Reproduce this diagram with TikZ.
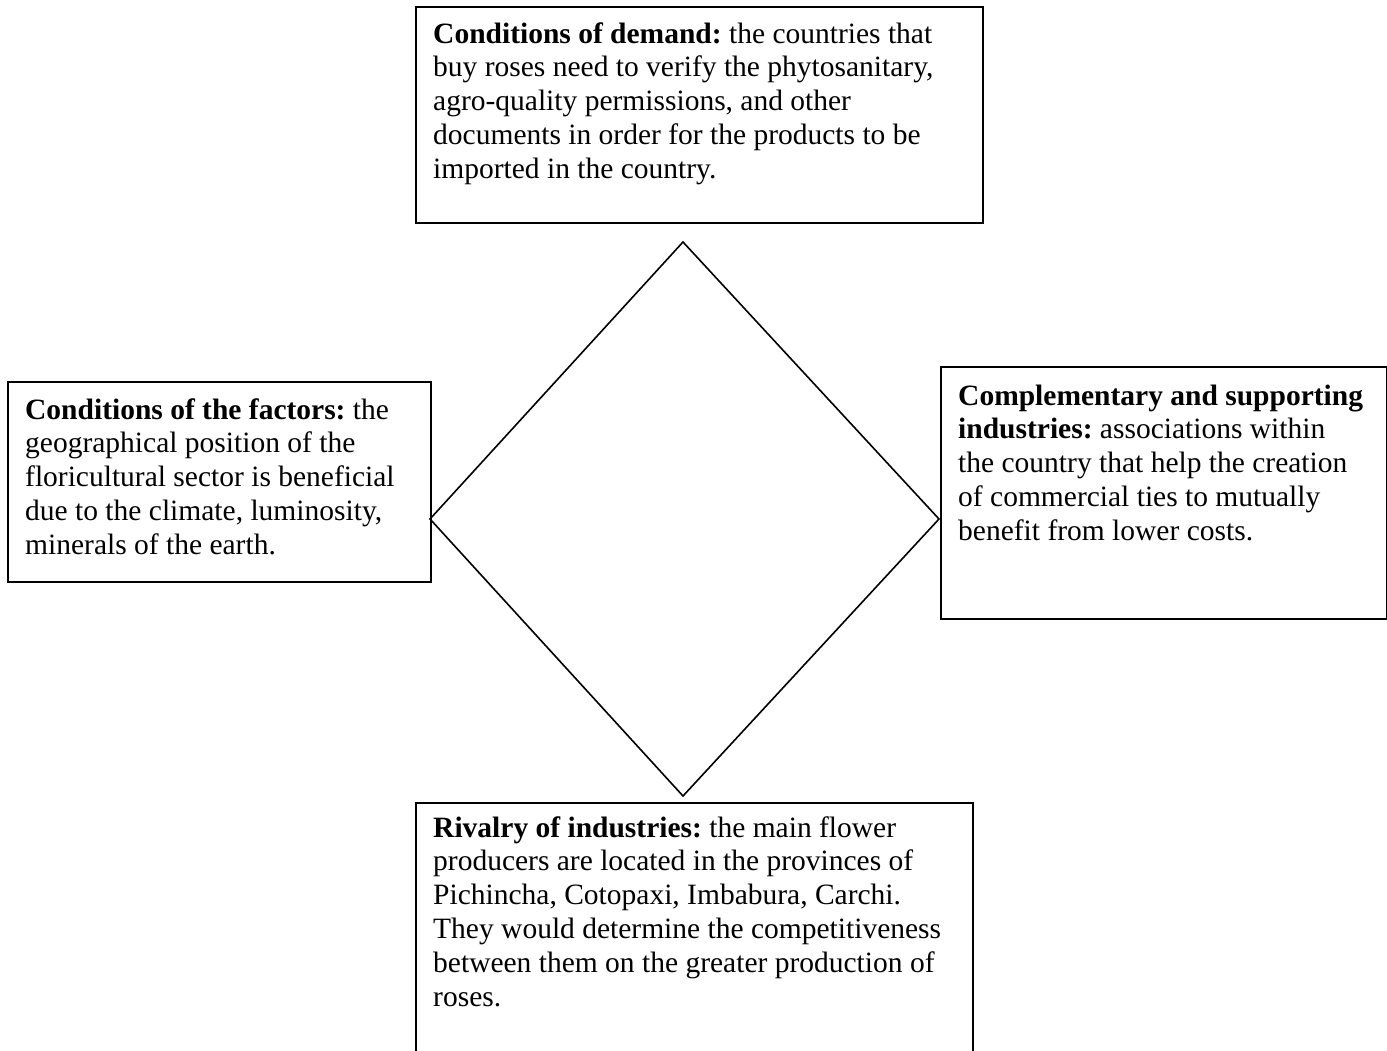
\documentclass[tikz,border=0pt]{standalone}
\usepackage{fontspec}
\setmainfont{Liberation Serif}
\frenchspacing
\begin{document}
\begin{tikzpicture}[x=1pt,y=-1pt,
  box/.style={draw,line width=1.6pt,inner sep=0pt,anchor=north west},
  % multi-line texts are placed by the baseline of their last line
  boxtext/.style={inner sep=0pt,anchor=base west,align=left,
    font=\fontsize{29.5}{33.8}\selectfont},
  rhomb/.style={line width=1.6pt,line join=miter}]
\useasboundingbox (0,0) rectangle (1387,1050);
\clip (0,0) rectangle (1387,1050);

% the four frames
\node[box,minimum width=567pt,minimum height=216pt] (demand) at (415,6) {};
\node[box,minimum width=423pt,minimum height=200pt] (factors) at (7,381) {};
\node[box,minimum width=446pt,minimum height=252pt] (support) at (940,366) {};
\node[box,minimum width=557pt,minimum height=280pt] (rivalry) at (415,802) {};

% texts inside the frames
\node[boxtext] (tdemand) at (433,178.2)
  {\textbf{Conditions of demand:} the countries that\\
   buy roses need to verify the phytosanitary,\\
   agro-quality permissions, and other\\
   documents in order for the products to be\\
   imported in the country.};
\node[boxtext] (tfactors) at (25,554.2)
  {\textbf{Conditions of the factors:} the\\
   geographical position of the\\
   floricultural sector is beneficial\\
   due to the climate, luminosity,\\
   minerals of the earth.};
\node[boxtext] (tsupport) at (958,540.2)
  {\textbf{Complementary and supporting}\\
   \textbf{industries:} associations within\\
   the country that help the creation\\
   of commercial ties to mutually\\
   benefit from lower costs.};
\node[boxtext] (trivalry) at (433,1006)
  {\textbf{Rivalry of industries:} the main flower\\
   producers are located in the provinces of\\
   Pichincha, Cotopaxi, Imbabura, Carchi.\\
   They would determine the competitiveness\\
   between them on the greater production of\\
   roses.};

% the diamond in the middle
\coordinate (dN) at (683,242);
\coordinate (dW) at (430,519);
\coordinate (dE) at (939,519);
\coordinate (dS) at (683,796);
\draw[rhomb] (dN) -- (dE) -- (dS) -- (dW) -- cycle;
\end{tikzpicture}
\end{document}
